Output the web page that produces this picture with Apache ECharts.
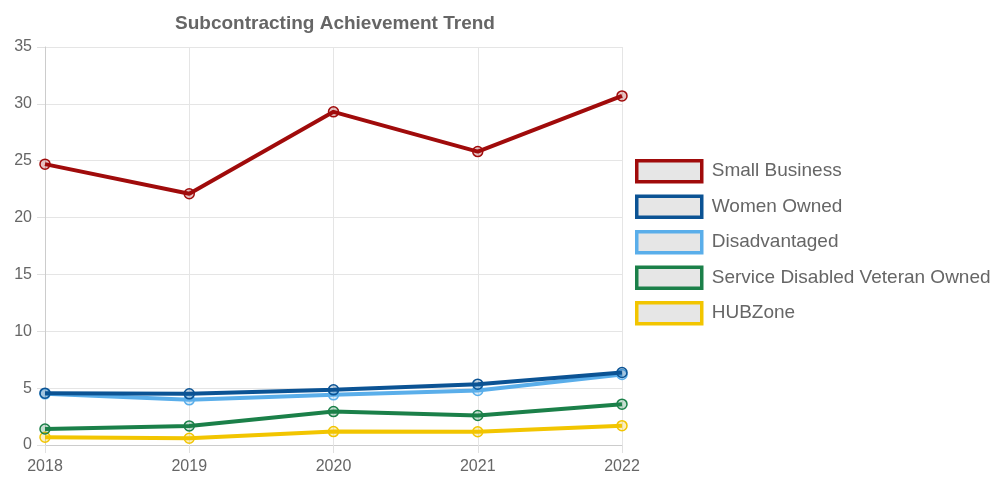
<!DOCTYPE html>
<html><head><meta charset="utf-8">
<script src="https://cdn.jsdelivr.net/npm/echarts@6/dist/echarts.min.js"></script>
<style>html,body{margin:0;padding:0;background:#fff}#c{width:995px;height:483px}</style>
</head><body><div id="c"></div>
<script>
const years = ['2018','2019','2020','2021','2022'];
const seriesNames = ['Small Business','Women Owned','Disadvantaged','Service Disabled Veteran Owned','HUBZone'];
const smallBusiness = [24.7, 22.1, 29.3, 25.8, 30.7];
const womenOwned = [4.56, 4.5, 4.85, 5.35, 6.38];
const disadvantaged = [4.5, 3.97, 4.41, 4.8, 6.2];
const sdvo = [1.41, 1.68, 2.94, 2.59, 3.59];
const hubzone = [0.68, 0.59, 1.18, 1.17, 1.7];
const colors = ['#a00b0b','#0b5394','#5aaeea','#1b8049','#f2c500'];
const fills = ['rgba(160,11,11,0.25)','rgba(11,83,148,0.25)','rgba(90,174,234,0.25)','rgba(27,128,73,0.25)','rgba(242,197,0,0.25)'];
const values = [smallBusiness, womenOwned, disadvantaged, sdvo, hubzone];

const chart = echarts.init(document.getElementById('c'));
const font = 'Liberation Sans, Arial, Helvetica, sans-serif';
chart.setOption({
  animation: false,
  title: {
    text: 'Subcontracting Achievement Trend',
    left: 330, top: 9, textAlign: 'center',
    textStyle: {fontFamily: font, fontSize: 19, fontWeight: 'bold', color: '#666'}
  },
  grid: {left: 45, right: 373, top: 47, bottom: 38},
  legend: {
    orient: 'vertical', left: 630, top: 154, padding: 5,
    icon: 'rect', itemWidth: 65, itemHeight: 21, itemGap: 11,
    textStyle: {fontFamily: font, fontSize: 19, lineHeight: 21, color: '#666', padding: [0,0,0,5]},
    data: seriesNames.map((n, i) => ({
      name: n,
      itemStyle: {color: '#e6e6e6', borderColor: colors[i], borderWidth: 3.5}
    }))
  },
  xAxis: {
    type: 'category', data: years, boundaryGap: false,
    axisLine: {show: true, lineStyle: {color: '#ccc'}},
    axisTick: {show: true, length: 8, lineStyle: {color: '#e0e0e0'}},
    axisLabel: {fontFamily: font, fontSize: 16, color: '#666', margin: 14},
    splitLine: {show: true, lineStyle: {color: '#e5e5e5'}}
  },
  yAxis: {
    type: 'value', min: 0, max: 35, interval: 5,
    axisLine: {show: true, lineStyle: {color: '#ccc'}},
    axisTick: {show: true, length: 8, lineStyle: {color: '#e0e0e0'}},
    axisLabel: {fontFamily: font, fontSize: 16, color: '#666', margin: 13},
    splitLine: {show: true, lineStyle: {color: '#e5e5e5'}}
  },
  series: seriesNames.map((n, i) => ({
    name: n, type: 'line', data: values[i],
    symbol: 'circle', symbolSize: 10, showAllSymbol: true,
    lineStyle: {color: colors[i], width: 4},
    itemStyle: {color: fills[i], borderColor: colors[i], borderWidth: 1.5},
    z: 10 - i
  }))
});
</script></body></html>
